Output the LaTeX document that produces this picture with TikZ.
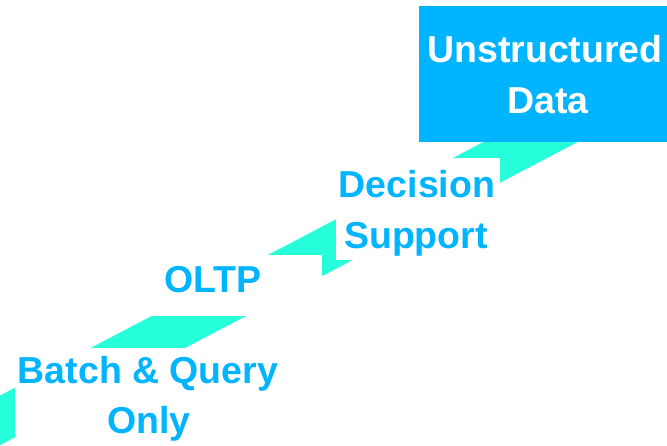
\documentclass[tikz,border=0pt]{standalone}
\usepackage{fontspec}
\setmainfont{Liberation Sans}
\definecolor{skyc}{HTML}{00B4FF}
\definecolor{tealc}{HTML}{26FFD9}
\tikzset{
  wbox/.style={fill=white, draw=none, inner sep=0pt, outer sep=0pt, anchor=north west},
  cbox/.style={fill=skyc, draw=none, inner sep=0pt, outer sep=0pt, anchor=north west},
  lbl/.style={text=skyc, font=\fontsize{37.5}{51}\selectfont\bfseries, inner sep=0pt, anchor=base},
  wlbl/.style={text=white, font=\fontsize{37.5}{51}\selectfont\bfseries, inner sep=0pt, anchor=base},
}
\begin{document}
\begin{tikzpicture}[x=1pt, y=-1pt]
\useasboundingbox (0,0) rectangle (667,445);
\clip (0,0) rectangle (667,445);
% rising band
\fill[tealc] (-20,406) -- (600,80.8) -- (650,104) -- (-20,455.6) -- cycle;
% white label boxes covering the band
\node[wbox, minimum width=266pt, minimum height=110pt] (batchbox) at (15,348) {};
\node[wbox, minimum width=214pt, minimum height=61pt] (oltpbox) at (108,255) {};
\node[wbox, minimum width=164pt, minimum height=102pt] (decbox) at (336,158) {};
\node[cbox, minimum width=260pt, minimum height=136pt] (unbox) at (419,6) {};
% labels
\node[lbl] (batch1) at (148,383) {Batch \& Query};
\node[lbl] (batch2) at (149,433) {Only};
\node[lbl] (oltp) at (213,292) {OLTP};
\node[lbl] (dec1) at (417,197) {Decision};
\node[lbl] (dec2) at (416,248) {Support};
\node[wlbl] (un1) at (545,62) {Unstructured};
\node[wlbl] (un2) at (548,113) {Data};
\end{tikzpicture}
\end{document}
